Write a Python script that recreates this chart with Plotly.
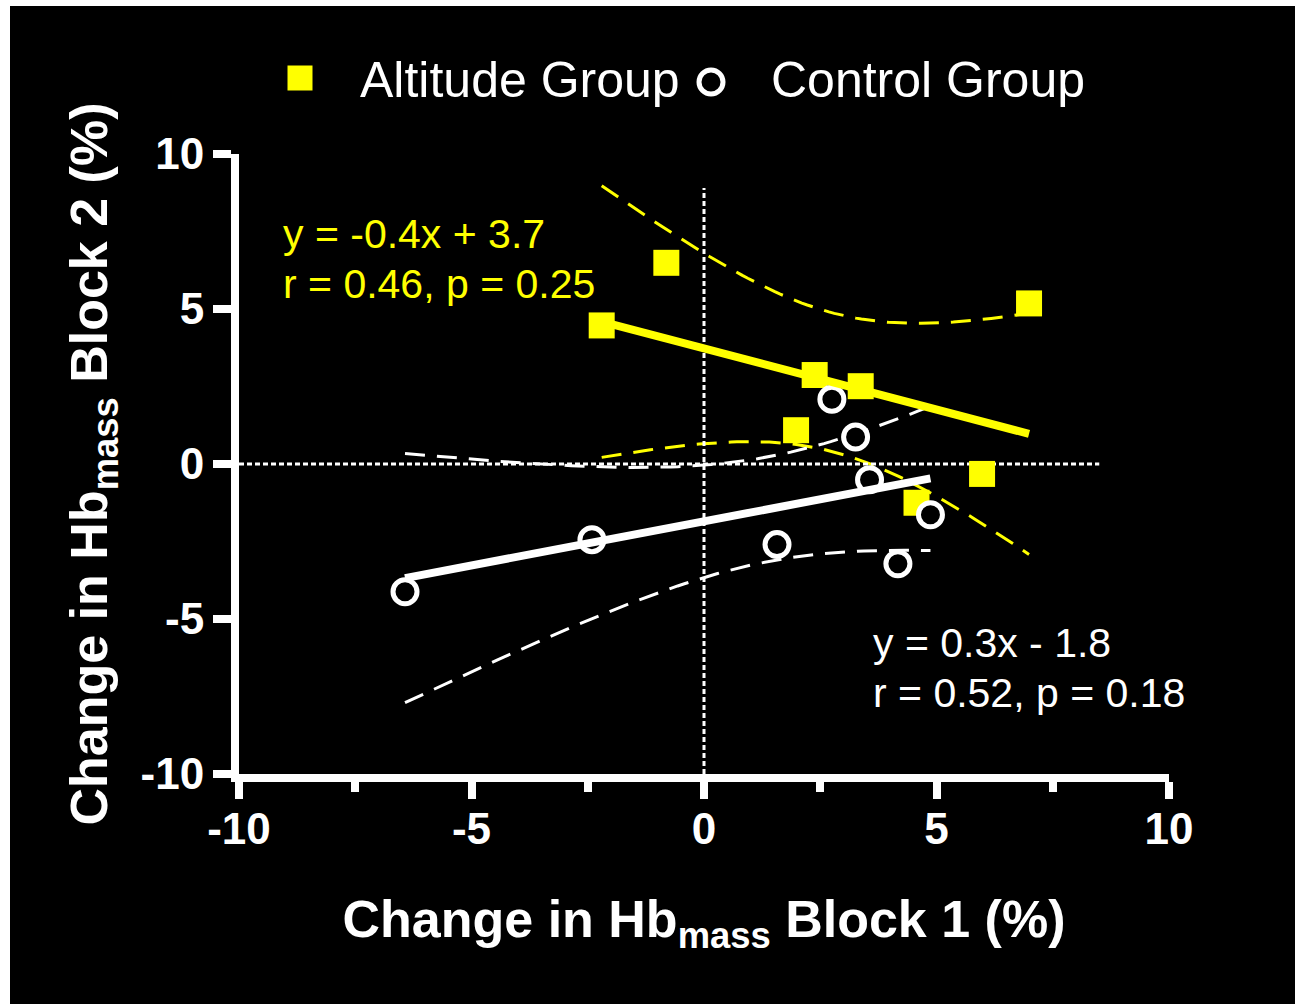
import numpy as np
import plotly.graph_objects as go

# ---------------- data ----------------
altitude_x = [-2.20, -0.81, 2.38, 3.37, 1.98, 6.99, 5.98, 4.57]
altitude_y = [4.47, 6.49, 2.87, 2.51, 1.09, 5.18, -0.32, -1.25]
control_x = [-6.43, -2.41, 1.57, 4.17, 4.87, 3.56, 3.26, 2.75]
control_y = [-4.12, -2.44, -2.60, -3.22, -1.64, -0.51, 0.87, 2.09]

series_names = ["Altitude Group", "Control Group"]
altitude_eq = ["y = -0.4x + 3.7", "r = 0.46, p = 0.25"]
control_eq = ["y = 0.3x - 1.8", "r = 0.52, p = 0.18"]

tick_vals = [-10, -5, 0, 5, 10]
tick_text = ["-10", "-5", "0", "5", "10"]
minor_tick_vals = [-7.5, -2.5, 2.5, 7.5]
axis_range = [-10, 10]
zero_vline_y = [-10, 8.9]   # vertical dotted line at x = 0
zero_hline_x = [-10, 8.5]   # horizontal dotted line at y = 0
T_CRIT = 2.447              # Student t, two-sided 95 %, df = n - 2 = 6

YELLOW = "#FFFF00"
WHITE = "#FFFFFF"
FONT = "Liberation Sans, Arial, sans-serif"


def fit_with_band(x, y, n_pts=80):
    """Least-squares line and its 95 % confidence band over the data range."""
    x = np.asarray(x, float)
    y = np.asarray(y, float)
    n = len(x)
    slope, intercept = np.polyfit(x, y, 1)
    xs = np.linspace(x.min(), x.max(), n_pts)
    yhat = intercept + slope * xs
    resid = y - (intercept + slope * x)
    s = np.sqrt(np.sum(resid ** 2) / (n - 2))
    sxx = np.sum((x - x.mean()) ** 2)
    hw = T_CRIT * s * np.sqrt(1.0 / n + (xs - x.mean()) ** 2 / sxx)
    return xs, yhat, yhat + hw, yhat - hw


ax_, ay_, aup, alo = fit_with_band(altitude_x, altitude_y)
cx_, cy_, cup, clo = fit_with_band(control_x, control_y)

band_dash = "20px,12px"
fig = go.Figure()

# confidence bands
for xs, ys, col in [(ax_, aup, YELLOW), (ax_, alo, YELLOW), (cx_, cup, WHITE), (cx_, clo, WHITE)]:
    fig.add_trace(go.Scatter(x=xs, y=ys, mode="lines", showlegend=False, hoverinfo="skip",
                             line=dict(color=col, width=3, dash=band_dash)))

# dotted zero lines
fig.add_trace(go.Scatter(x=[0, 0], y=zero_vline_y, mode="lines", showlegend=False, hoverinfo="skip",
                         line=dict(color=WHITE, width=3, dash="5px,3px")))
fig.add_trace(go.Scatter(x=zero_hline_x, y=[0, 0], mode="lines", showlegend=False, hoverinfo="skip",
                         line=dict(color=WHITE, width=3, dash="5px,3px")))

# data points
fig.add_trace(go.Scatter(x=altitude_x, y=altitude_y, mode="markers", name=series_names[0],
                         showlegend=False,
                         marker=dict(symbol="square", size=26, color=YELLOW, line=dict(width=0))))
fig.add_trace(go.Scatter(x=control_x, y=control_y, mode="markers", name=series_names[1],
                         showlegend=False,
                         marker=dict(symbol="circle", size=24, color="black",
                                     line=dict(width=5, color=WHITE))))

# regression lines
fig.add_trace(go.Scatter(x=[ax_[0], ax_[-1]], y=[ay_[0], ay_[-1]], mode="lines", showlegend=False,
                         hoverinfo="skip", line=dict(color=YELLOW, width=8)))
fig.add_trace(go.Scatter(x=[cx_[0], cx_[-1]], y=[cy_[0], cy_[-1]], mode="lines", showlegend=False,
                         hoverinfo="skip", line=dict(color=WHITE, width=8)))

# ---------------- layout ----------------
W, H = 1295, 1004
L, R, T, B = 239, 126, 154, 230
pw, ph = W - L - R, H - T - B


def fx(px):
    return (px - L) / pw


def fy(py):
    return (H - B - py) / ph


tickfont = dict(family=FONT, size=44, color=WHITE, weight="bold")
titlefont = dict(family=FONT, size=52, color=WHITE, weight="bold")
common_axis = dict(range=axis_range, tickmode="array", tickvals=tick_vals, ticktext=tick_text,
                   ticks="outside", tickwidth=8, tickcolor=WHITE, showline=True, linewidth=8,
                   linecolor=WHITE, showgrid=False, zeroline=False, tickfont=tickfont)

shapes = [
    # black background panel (white strip on top and left like the original)
    dict(type="rect", xref="paper", yref="paper", x0=fx(10), x1=fx(1300), y0=fy(1010), y1=fy(6),
         fillcolor="black", line=dict(width=0), layer="below"),
    # legend glyphs
    dict(type="rect", xref="paper", yref="paper", xsizemode="pixel", ysizemode="pixel",
         xanchor=fx(300), yanchor=fy(78), x0=-12.5, x1=12.5, y0=-12.5, y1=12.5,
         fillcolor=YELLOW, line=dict(width=0)),
    dict(type="circle", xref="paper", yref="paper", xsizemode="pixel", ysizemode="pixel",
         xanchor=fx(711), yanchor=fy(82), x0=-12, x1=12, y0=-12, y1=12,
         fillcolor="black", line=dict(width=5, color=WHITE)),
]

annotations = [
    dict(text=series_names[0], x=fx(358), y=fy(80), xref="paper", yref="paper",
         xanchor="left", yanchor="middle", showarrow=False,
         font=dict(family=FONT, size=50, color=WHITE)),
    dict(text=series_names[1], x=fx(769), y=fy(80), xref="paper", yref="paper",
         xanchor="left", yanchor="middle", showarrow=False,
         font=dict(family=FONT, size=50, color=WHITE)),
]
for line_txt, ypx in zip(altitude_eq, [234, 284]):
    annotations.append(dict(text=line_txt, x=fx(281), y=fy(ypx), xref="paper", yref="paper",
                            xanchor="left", yanchor="middle", showarrow=False,
                            font=dict(family=FONT, size=41, color=YELLOW)))
for line_txt, ypx in zip(control_eq, [643, 693]):
    annotations.append(dict(text=line_txt, x=fx(871), y=fy(ypx), xref="paper", yref="paper",
                            xanchor="left", yanchor="middle", showarrow=False,
                            font=dict(family=FONT, size=41, color=WHITE)))

fig.update_layout(
    width=W, height=H,
    margin=dict(l=L, r=R, t=T, b=B, pad=0),
    paper_bgcolor="white", plot_bgcolor="black",
    showlegend=False,
    xaxis=dict(**common_axis, ticklen=17, ticklabelstandoff=-8,
               minor=dict(tickmode="array", tickvals=minor_tick_vals, ticks="outside",
                          ticklen=10, tickwidth=8, tickcolor=WHITE, showgrid=False),
               title=dict(text="Change in Hb<sub>mass</sub> Block 1 (%)", font=titlefont,
                          standoff=52)),
    yaxis=dict(**common_axis, ticklen=18,
               title=dict(text="Change in Hb<sub>mass</sub> Block 2 (%)", font=titlefont,
                          standoff=19)),
    shapes=shapes,
    annotations=annotations,
)

fig.write_html("out.html")
